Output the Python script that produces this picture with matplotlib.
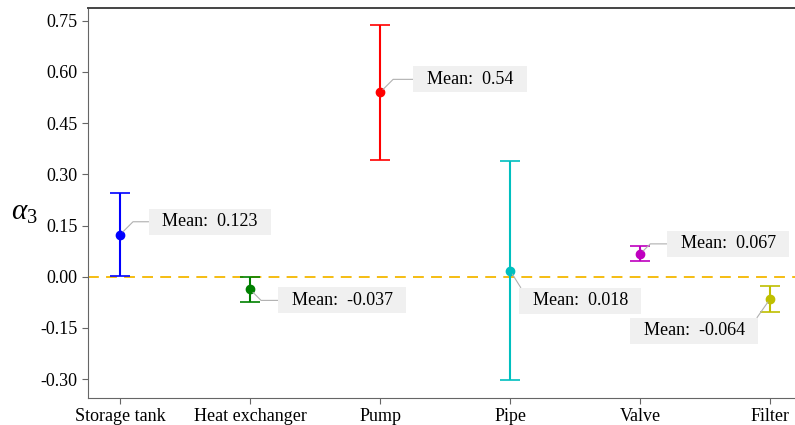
import matplotlib.pyplot as plt
import numpy as np

plt.rcParams["font.family"] = ["Liberation Serif", "DejaVu Serif"]
plt.rcParams["mathtext.fontset"] = "custom"
plt.rcParams["mathtext.rm"] = "Liberation Serif"
plt.rcParams["mathtext.it"] = "Liberation Serif:italic"

components = ["Storage tank", "Heat exchanger", "Pump", "Pipe", "Valve", "Filter"]
means = [0.123, -0.037, 0.54, 0.018, 0.067, -0.064]
errors = [0.122, 0.037, 0.198, 0.320, 0.022, 0.038]
colors = ["b", "g", "r", "c", "m", "y"]
mean_labels = ["0.123", "-0.037", "0.54", "0.018", "0.067", "-0.064"]

# label placement (pixel offsets from the point), leader attach point on the box,
# and leader-line shape
label_offsets = [(90, 13), (92, -11), (90, 13), (70, -30), (88, 10), (-76, -32)]
leader_relpos = [(0, 0.5), (0, 0.5), (0, 0.5), (0, 1), (0, 0.5), (1, 1)]
leader_styles = ["angle,angleA=0,angleB=45,rad=0",
                 "angle,angleA=0,angleB=-45,rad=0",
                 "angle,angleA=0,angleB=45,rad=0",
                 "arc3,rad=0",
                 "angle,angleA=0,angleB=45,rad=0",
                 "arc3,rad=0"]

fig = plt.figure(figsize=(7.95, 4.25), dpi=100)
ax = fig.add_axes([88 / 795, 27 / 425, 707 / 795, 390 / 425])

x = np.arange(len(components))
for i in range(len(components)):
    ax.errorbar(x[i], means[i], yerr=errors[i], fmt="o", color=colors[i],
                ms=6, elinewidth=1.5, capsize=7, capthick=1.2)

ax.axhline(0, color="#f5b800", ls=(0, (6, 4)), lw=1.3, zorder=0)

for i in range(len(components)):
    dx, dy = label_offsets[i]
    ax.annotate(f"  Mean:  {mean_labels[i]}  ", xy=(x[i], means[i]),
                xytext=(dx, dy), textcoords="offset pixels",
                ha="center", va="center", fontsize=13,
                bbox=dict(boxstyle="square,pad=0.25", fc="#f0f0f0", ec="none"),
                arrowprops=dict(arrowstyle="-", color="#b0b0b0", lw=0.8,
                                shrinkA=0, shrinkB=3, relpos=leader_relpos[i],
                                connectionstyle=leader_styles[i]))

ax.set_xlim(-0.246, 5.19)
ax.set_ylim(-0.355, 0.787)
ax.set_xticks(x)
ax.set_xticklabels(components)
ax.set_yticks(np.arange(-0.30, 0.76, 0.15))
ax.set_yticklabels([f"{v:.2f}" for v in np.arange(-0.30, 0.76, 0.15)])
ax.tick_params(labelsize=13, color="#666666", length=4)

ax.set_ylabel(r"$\mathit{\alpha}_{\mathit{3}}$", fontsize=21, rotation=0,
              ha="center", va="center")
ax.yaxis.set_label_coords(-0.0905, 0.474)

for side in ["left", "bottom", "top"]:
    ax.spines[side].set_color("#666666")
ax.spines["top"].set_color("#444444")
ax.spines["top"].set_linewidth(1.4)
ax.spines["right"].set_visible(False)

fig.savefig("out.png", dpi=100)
